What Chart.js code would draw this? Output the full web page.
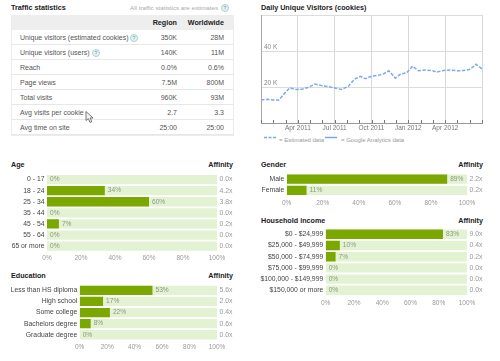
<!DOCTYPE html>
<html><head><meta charset="utf-8">
<script src="https://cdn.jsdelivr.net/npm/chart.js@4"></script>
<style>
html,body{margin:0;padding:0;background:#fff;}
body{width:500px;height:361px;overflow:hidden;position:relative;font-family:"Liberation Sans",Arial,sans-serif;filter:blur(.4px);}
.t{position:absolute;white-space:nowrap;line-height:10px;}
.h{font-weight:bold;font-size:7.2px;color:#222;}
.c{font-size:7px;color:#555;}
.r{text-align:right;}
canvas{position:absolute;}
.q{position:absolute;width:6px;height:6px;border:1px solid #a9d4d0;border-radius:50%;background:#e6f3f3;font-size:5px;line-height:6px;text-align:center;color:#5d9a98;}
.row{position:absolute;left:11px;width:222px;border-bottom:1px solid #e7e7e7;}
</style></head><body>
<div class="t h" style="left:11px;top:3px">Traffic statistics</div>
<div class="t r" style="right:282px;top:3px;font-size:6.2px;color:#aaa">All traffic statistics are estimates</div>
<div class="q" style="left:221px;top:4px">?</div>
<div id="tbl"></div>
<svg style="position:absolute;left:85px;top:111px" width="10" height="13"><path d="M1 .5V9.5L3.4 7.6 5 11.5 6.8 10.7 5.2 7H8Z" fill="#f4f4f4" stroke="#555" stroke-width=".8"/></svg>
<div class="t h" style="left:261px;top:3px">Daily Unique Visitors (cookies)</div>
<canvas id="line" width="240" height="124" style="left:250px;top:10px"></canvas>
<svg style="position:absolute;left:264px;top:134px" width="80" height="8"><line x1="0" x2="12" y1="3.5" y2="3.5" stroke="#7aa5f0" stroke-width="1.4" stroke-dasharray="3 1.5"/><line x1="61" x2="73" y1="3.5" y2="3.5" stroke="#7aa5f0" stroke-width="1.5"/></svg>
<div class="t" style="left:279px;top:135px;font-size:6px;color:#999">= Estimated data</div>
<div class="t" style="left:341px;top:135px;font-size:6px;color:#999">= Google Analytics data</div>
<div id="sec"></div>
<script>
const statLabels=["Unique visitors (estimated cookies)","Unique visitors (users)","Reach","Page views","Total visits","Avg visits per cookie","Avg time on site"];
const statRegion=["350K","140K","0.0%","7.5M","960K","2.7","25:00"];
const statWorld=["28M","11M","0.6%","800M","93M","3.3","25:00"];

const monthLabels=["Jan 2011","Feb 2011","Mar 2011","Apr 2011","May 2011","Jun 2011","Jul 2011","Aug 2011","Sep 2011","Oct 2011","Nov 2011","Dec 2011","Jan 2012","Feb 2012","Mar 2012","Apr 2012","May 2012","Jun 2012","Jul 2012"];
const visitMonths=[0,0.55,0.98,1.47,1.93,2.34,2.88,3.36,3.83,4.38,4.92,5.46,6.0,6.54,7.1,7.62,8.1,8.5,9.0,9.5,9.95,10.42,10.94,11.37,11.86,12.35,12.82,13.36,13.9,14.3,14.85,15.4,16.08,16.49,17.03,17.52,18];
const visitValues=[12.8,13.2,12.8,12.8,16.6,19.5,18.6,18.8,19.7,21.6,20.8,20.3,19.5,18.6,20.3,24.4,25.9,24.6,26.0,26.4,27.2,29.0,24.9,27.2,27.9,31.6,29.0,29.4,29.2,28.3,29.2,29.4,29.0,29.2,29.8,32.6,30.0];
const visitTicks=[0,20,40,60];

const ageCats=["0 - 17","18 - 24","25 - 34","35 - 44","45 - 54","55 - 64","65 or more"];
const ageVals=[0,34,60,0,7,0,0];
const ageAff=["0.0x","4.2x","3.8x","0.0x","0.2x","0.0x","0.0x"];
const genderCats=["Male","Female"];
const genderVals=[89,11];
const genderAff=["2.2x","0.2x"];
const incomeCats=["$0 - $24,999","$25,000 - $49,999","$50,000 - $74,999","$75,000 - $99,999","$100,000 - $149,999","$150,000 or more"];
const incomeVals=[83,10,7,0,0,0];
const incomeAff=["9.0x","0.4x","0.2x","0.0x","0.0x","0.0x"];
const eduCats=["Less than HS diploma","High school","Some college","Bachelors degree","Graduate degree"];
const eduVals=[53,17,22,8,0];
const eduAff=["5.6x","2.0x","0.4x","0.6x","0.0x"];
const pctTicks=[0,20,40,60,80,100];

const FONT='"Liberation Sans",Arial,sans-serif';
Chart.defaults.font.family=FONT;
Chart.defaults.animation=false;

function text(parent,cls,style,s){const d=document.createElement('div');d.className=cls;d.style.cssText=style;d.textContent=s;parent.appendChild(d);return d;}
const tbl=document.getElementById('tbl');
const hb=document.createElement('div');hb.style.cssText='position:absolute;left:11px;top:15px;width:222px;height:15px;background:#eeeeee;';tbl.appendChild(hb);
const frame=document.createElement('div');frame.style.cssText='position:absolute;left:11px;top:15px;width:221px;height:120px;border:1px solid #ececec;border-top:none;';tbl.appendChild(frame);
text(tbl,'t h r','right:323px;top:18px;','Region');
text(tbl,'t h r','right:276px;top:18px;','Worldwide');
statLabels.forEach((l,i)=>{
  const y=33+i*15.05;
  const b=document.createElement('div');b.className='row';b.style.top=(30+i*15.05)+'px';b.style.height='14.05px';tbl.appendChild(b);
  text(tbl,'t c','left:20px;top:'+y+'px;',l);
  text(tbl,'t c r','right:323px;top:'+y+'px;',statRegion[i]);
  text(tbl,'t c r','right:276px;top:'+y+'px;',statWorld[i]);
});
[[130,34],[92,49]].forEach(p=>text(tbl,'q','left:'+p[0]+'px;top:'+p[1]+'px;','?'));

function noPad(s){s.paddingTop=0;s.paddingBottom=0;s.paddingLeft=0;s.paddingRight=0;}

new Chart(document.getElementById('line'),{
  type:'line',
  data:{datasets:[{data:visitMonths.map((m,i)=>({x:m,y:visitValues[i]})),borderColor:'#7ea8f3',borderWidth:1.5,borderDash:[3.5,1.5],pointRadius:0,tension:0}]},
  options:{responsive:false,maintainAspectRatio:false,
    layout:{padding:{left:11,right:8,top:5,bottom:0}},
    plugins:{legend:{display:false},tooltip:{enabled:false}},
    scales:{
      x:{type:'linear',min:0,max:18,
        afterBuildTicks(s){s.ticks=monthLabels.map((_,i)=>({value:i}));},
        ticks:{autoSkip:false,maxRotation:0,padding:1,font:{size:6.5},color:'#777',callback:(v)=>(v>0&&v%3===0&&v<18)?monthLabels[v]:''},
        grid:{tickLength:0,color:c=>c.index%3===0?'#d8d8d8':'rgba(0,0,0,0)',drawOnChartArea:true},
        border:{color:'#999'},
        afterFit(s){s.height=11;noPad(s);}},
      y:{min:0,max:60,
        afterBuildTicks(s){s.ticks=visitTicks.map(v=>({value:v}));},
        ticks:{display:false},
        grid:{color:'#dcdcdc',tickLength:0},
        border:{color:'#aaa'},
        afterFit(s){s.width=0;noPad(s);}}
    }
  },
  plugins:[{id:'inner',afterDraw(c){
    const g=c.ctx,x=c.scales.x,y=c.scales.y;
    g.save();g.strokeStyle='#777';g.lineWidth=1;
    x.ticks.forEach((t,i)=>{const p=Math.round(x.getPixelForTick(i))+.5;g.beginPath();g.moveTo(p,c.chartArea.bottom);g.lineTo(p,c.chartArea.bottom-3);g.stroke();});
    g.fillStyle='#888';g.font='6.5px '+FONT;g.textBaseline='bottom';
    [20,40].forEach(v=>g.fillText(v+' K',c.chartArea.left+3,y.getPixelForValue(v)-.5));
    g.restore();
  }}]
});

const valueLabels={id:'valueLabels',afterDatasetsDraw(c){
  const g=c.ctx,m=c.getDatasetMeta(1);
  g.save();g.font='6.6px '+FONT;g.fillStyle='#8b9a7a';g.textBaseline='middle';g.textAlign='left';
  m.data.forEach((b,i)=>g.fillText(c.data.datasets[1].data[i]+'%',b.x+3,b.y));
  g.restore();
}};

function section(title,left,titleTop,canvasW,axisW,cats,vals,aff,plotTop,plotBottom){
  const sec=document.getElementById('sec');
  text(sec,'t h','left:'+(left+11)+'px;top:'+titleTop+'px;',title);
  text(sec,'t h r','right:'+(500-left-canvasW+1)+'px;top:'+titleTop+'px;','Affinity');
  const top=Math.floor(plotTop), full=Math.ceil(plotBottom+11-top), cv=document.createElement('canvas');
  cv.width=canvasW;cv.height=full;cv.style.left=left+'px';cv.style.top=top+'px';sec.appendChild(cv);
  new Chart(cv,{type:'bar',
    data:{labels:cats,datasets:[
      {data:cats.map(()=>100),backgroundColor:'#e3f2d2',barPercentage:.84,categoryPercentage:1,order:2,yAxisID:'y',grouped:false},
      {data:vals,backgroundColor:'#7ba800',barPercentage:.84,categoryPercentage:1,order:1,yAxisID:'y',grouped:false}]},
    options:{indexAxis:'y',responsive:false,maintainAspectRatio:false,
      layout:{padding:{left:0,right:0,top:plotTop-top,bottom:full-(plotBottom+11-top)}},
      plugins:{legend:{display:false},tooltip:{enabled:false}},
      scales:{
        x:{min:0,max:100,
          afterBuildTicks(s){s.ticks=pctTicks.map(v=>({value:v}));},
          ticks:{callback:v=>v+'%',font:{size:6.5},color:'#999',maxRotation:0,padding:1},
          grid:{display:false,drawTicks:true,tickLength:2,tickColor:'#ddd'},border:{display:false},
          afterFit(s){s.height=11;noPad(s);}},
        y:{position:'left',labels:cats,offset:true,ticks:{font:{size:6.8},color:'#444',padding:2.5,autoSkip:false},
          grid:{display:false,tickLength:0},border:{display:false},
          afterFit(s){s.width=axisW;noPad(s);}},
        y2:{position:'right',type:'category',labels:aff,offset:true,ticks:{font:{size:6.9},color:'#999',padding:2.5,autoSkip:false},
          grid:{display:false,tickLength:0},border:{display:false},
          afterFit(s){s.width=17;noPad(s);}}
      }},
    plugins:[valueLabels]});
}
section('Age',0,160,234,47,ageCats,ageVals,ageAff,174,251.7);
section('Gender',250,160,234,36.7,genderCats,genderVals,genderAff,173.5,196);
section('Household income',250,216,234,75.7,incomeCats,incomeVals,incomeAff,228.7,295.9);
section('Education',0,271,234,79.7,eduCats,eduVals,eduAff,284.8,340.3);
</script>
</body></html>
